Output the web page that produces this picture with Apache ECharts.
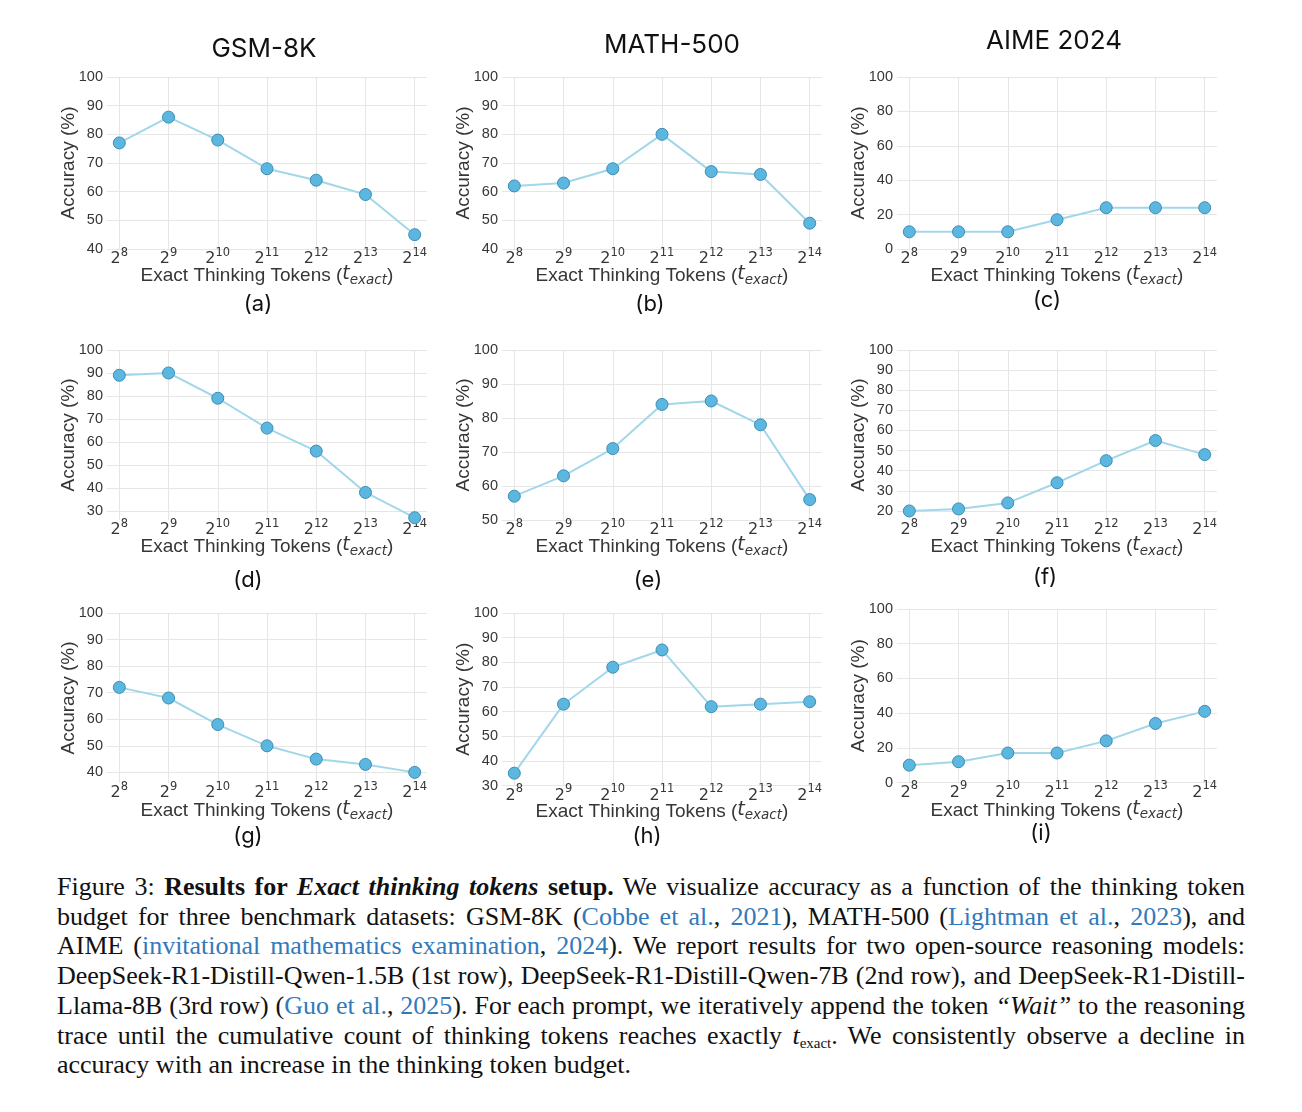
<!DOCTYPE html>
<html>
<head>
<meta charset="utf-8">
<script src="https://cdn.jsdelivr.net/npm/echarts@6/dist/echarts.min.js"></script>
<style>
html,body{margin:0;padding:0;background:#fff;}
#chart{position:absolute;left:0;top:0;width:1302px;height:860px;}
#cap{position:absolute;left:57px;top:872px;width:1188px;font-family:'Liberation Serif','Times New Roman',serif;font-size:26px;line-height:29.7px;color:#111;}
#cap .l{text-align:justify;text-align-last:justify;white-space:nowrap;}
#cap .last{text-align:left;white-space:nowrap;}
#cap a{color:#3279bb;text-decoration:none;}
#cap sub{font-size:15px;vertical-align:-4px;line-height:0;}
</style>
</head>
<body>
<div id="chart"></div>
<div id="cap">
<div class="l">Figure 3: <b>Results for <i>Exact thinking tokens</i> setup.</b> We visualize accuracy as a function of the thinking token</div>
<div class="l">budget for three benchmark datasets: GSM-8K (<a>Cobbe et al.</a>, <a>2021</a>), MATH-500 (<a>Lightman et al.</a>, <a>2023</a>), and</div>
<div class="l">AIME (<a>invitational mathematics examination</a>, <a>2024</a>). We report results for two open-source reasoning models:</div>
<div class="l">DeepSeek-R1-Distill-Qwen-1.5B (1st row), DeepSeek-R1-Distill-Qwen-7B (2nd row), and DeepSeek-R1-Distill-</div>
<div class="l">Llama-8B (3rd row) (<a>Guo et al.</a>, <a>2025</a>). For each prompt, we iteratively append the token <i>“Wait”</i> to the reasoning</div>
<div class="l">trace until the cumulative count of thinking tokens reaches exactly <i>t</i><sub>exact</sub>. We consistently observe a decline in</div>
<div class="last">accuracy with an increase in the thinking token budget.</div>
</div>
<script>
// ---- data ----
const exponents = [8, 9, 10, 11, 12, 13, 14];           // x tick labels: 2^exp
const datasetTitles = ['GSM-8K', 'MATH-500', 'AIME 2024'];
const panelLabels = ['(a)', '(b)', '(c)', '(d)', '(e)', '(f)', '(g)', '(h)', '(i)'];

// Row 1: DeepSeek-R1-Distill-Qwen-1.5B
const accA = [77, 86, 78, 68, 64, 59, 45];
const accB = [62, 63, 68, 80, 67, 66, 49];
const accC = [10, 10, 10, 17, 24, 24, 24];
// Row 2: DeepSeek-R1-Distill-Qwen-7B
const accD = [89, 90, 79, 66, 56, 38, 27];
const accE = [57, 63, 71, 84, 85, 78, 56];
const accF = [20, 21, 24, 34, 45, 55, 48];
// Row 3: DeepSeek-R1-Distill-Llama-8B
const accG = [72, 68, 58, 50, 45, 43, 40];
const accH = [35, 63, 78, 85, 62, 63, 64];
const accI = [10, 12, 17, 17, 24, 34, 41];

// y tick values per panel
const ticks10from40 = [40, 50, 60, 70, 80, 90, 100];
const ticks20from0 = [0, 20, 40, 60, 80, 100];
const ticks10from30 = [30, 40, 50, 60, 70, 80, 90, 100];
const ticks10from50 = [50, 60, 70, 80, 90, 100];
const ticks10from20 = [20, 30, 40, 50, 60, 70, 80, 90, 100];

// y-axis ranges (min, max)
const yMinA = 40, yMinB = 40, yMinC = 0;
const yMinD = 26, yMinE = 50, yMinF = 15.5;
const yMinG = 36, yMinH = 30, yMinI = 0;
const yMax = 100;

// ---- layout ----
const panels = [
  {vals: accA, min: yMinA, ticks: ticks10from40, left: 107, top: 77, h: 172, ng: 16},
  {vals: accB, min: yMinB, ticks: ticks10from40, left: 502, top: 77, h: 172, ng: 16},
  {vals: accC, min: yMinC, ticks: ticks20from0, left: 897, top: 77, h: 172, ng: 16},
  {vals: accD, min: yMinD, ticks: ticks10from30, left: 107, top: 350, h: 170, ng: 16},
  {vals: accE, min: yMinE, ticks: ticks10from50, left: 502, top: 350, h: 170, ng: 16},
  {vals: accF, min: yMinF, ticks: ticks10from20, left: 897, top: 350, h: 170, ng: 16},
  {vals: accG, min: yMinG, ticks: ticks10from40, left: 107, top: 613, h: 170, ng: 17},
  {vals: accH, min: yMinH, ticks: ticks10from30, left: 502, top: 613, h: 172.5, ng: 15},
  {vals: accI, min: yMinI, ticks: ticks20from0, left: 897, top: 609, h: 173.5, ng: 17}
];
const plotW = 320;
const xIdx = exponents.map((e, i) => i);

const grids = [], xAxes = [], yAxes = [], series = [];
const gridColor = '#e6e6e6';
const labelColor = '#363636';

panels.forEach((p, k) => {
  grids.push({left: p.left, top: p.top, width: plotW, height: p.h, containLabel: false});
  xAxes.push({
    type: 'value', gridIndex: k, min: -0.25, max: 6.25,
    axisLine: {show: false},
    axisTick: {show: false, customValues: xIdx},
    splitLine: {show: true, lineStyle: {color: gridColor, width: 1}},
    axisLabel: {
      customValues: xIdx, margin: -2,
      formatter: v => '{b|2}{s|' + exponents[Math.round(v)] + '}',
      rich: {
        b: {fontFamily: 'DejaVu Sans', fontSize: 16, color: labelColor, lineHeight: 20, verticalAlign: 'bottom'},
        s: {fontFamily: 'DejaVu Sans', fontSize: 11.5, color: labelColor, lineHeight: 12, verticalAlign: 'top'}
      }
    },
    name: 'Exact Thinking Tokens ({t|t}{sub|exact})',
    nameLocation: 'middle', nameGap: p.ng, nameMoveOverlap: false,
    nameTextStyle: {
      fontFamily: 'Liberation Sans', fontSize: 19, color: labelColor,
      rich: {
        t: {fontFamily: 'DejaVu Sans', fontStyle: 'italic', fontSize: 19, color: labelColor, lineHeight: 22, verticalAlign: 'top'},
        sub: {fontFamily: 'DejaVu Sans', fontStyle: 'italic', fontSize: 13.5, color: labelColor, lineHeight: 22, verticalAlign: 'bottom'}
      }
    }
  });
  yAxes.push({
    type: 'value', gridIndex: k, min: p.min, max: yMax,
    axisLine: {show: false},
    axisTick: {show: false, customValues: p.ticks},
    splitLine: {show: true, lineStyle: {color: gridColor, width: 1}},
    axisLabel: {customValues: p.ticks, margin: 4, fontFamily: 'Liberation Sans', fontSize: 14.5, color: labelColor},
    name: 'Accuracy (%)', nameLocation: 'middle', nameGap: 29, nameMoveOverlap: false,
    nameTextStyle: {fontFamily: 'Liberation Sans', fontSize: 19, color: labelColor}
  });
  series.push({
    type: 'line', xAxisIndex: k, yAxisIndex: k,
    data: p.vals.map((v, i) => [xIdx[i], v]),
    symbol: 'circle', symbolSize: 12,
    lineStyle: {color: '#a2d7ea', width: 2},
    itemStyle: {color: '#5cb7e0', borderColor: '#3d8db5', borderWidth: 1},
    emphasis: {disabled: true}, silent: true, z: 3
  });
});

const titlePos = [[264, 49], [672, 45], [1054, 41]];
const subPos = [[258, 304], [650, 304], [1047, 300], [248, 580], [648, 580], [1045, 577], [248, 836], [647, 836], [1041, 833]];
const graphics = [];
datasetTitles.forEach((t, i) => graphics.push({
  type: 'text', x: titlePos[i][0], y: titlePos[i][1], silent: true,
  style: {text: t, fontFamily: 'Inter', fontSize: 26, fill: '#111', align: 'center', verticalAlign: 'middle'}
}));
panelLabels.forEach((t, i) => graphics.push({
  type: 'text', x: subPos[i][0], y: subPos[i][1], silent: true,
  style: {text: t, fontFamily: 'Inter', fontSize: 22, fill: '#111', align: 'center', verticalAlign: 'middle'}
}));

const chart = echarts.init(document.getElementById('chart'), null, {renderer: 'canvas'});
chart.setOption({
  animation: false,
  backgroundColor: '#fff',
  grid: grids, xAxis: xAxes, yAxis: yAxes, series: series,
  graphic: graphics
});
</script>
</body>
</html>
